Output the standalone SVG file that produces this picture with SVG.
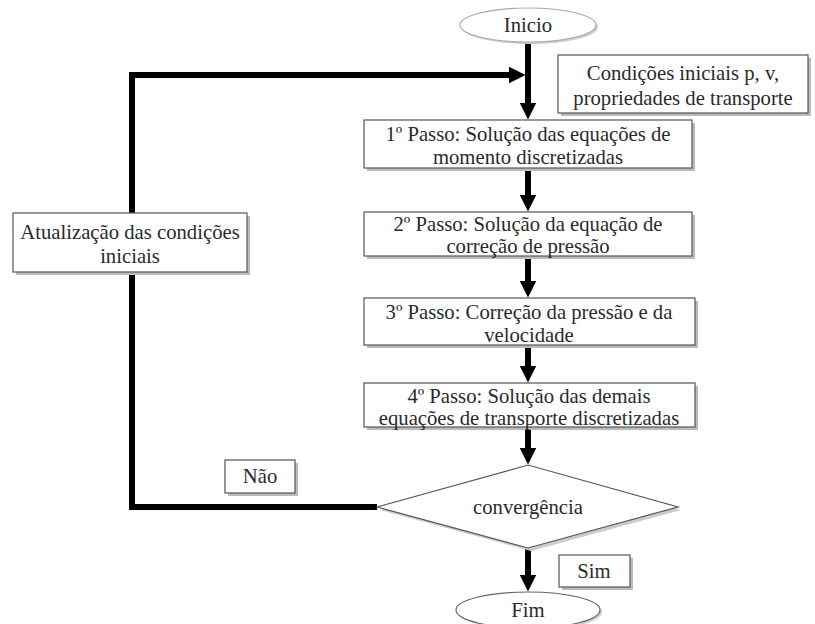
<svg xmlns="http://www.w3.org/2000/svg" width="815" height="624" viewBox="0 0 815 624">
<style>
.box{fill:#fff;stroke:#555;stroke-width:1.2}
.sh{fill:#bbb}
.t{font-family:'Liberation Serif','Times New Roman','DejaVu Serif',serif;font-size:20.7px;fill:#2a2a2a;text-anchor:middle}
.c{stroke:#000;stroke-width:6;fill:none}
</style>
<defs>
<marker id="ah" markerWidth="2.8" markerHeight="2.8" refX="2.2" refY="2" orient="auto" markerUnits="strokeWidth" viewBox="0 0 4 4">
<path d="M0,0 L4,2 L0,4 z" fill="#000"/>
</marker>
</defs>
<rect width="815" height="624" fill="#fff"/>
<g id="connectors">
<path class="c" d="M528,42 V112" marker-end="url(#ah)"/>
<path class="c" d="M132,213 V75 H518" marker-end="url(#ah)"/>
<path class="c" d="M528,168 V204" marker-end="url(#ah)"/>
<path class="c" d="M528,256 V290" marker-end="url(#ah)"/>
<path class="c" d="M528,345 V375" marker-end="url(#ah)"/>
<path class="c" d="M528,427 V457" marker-end="url(#ah)"/>
<path class="c" d="M528,548 V584" marker-end="url(#ah)"/>
<path class="c" d="M377,507 H132 V272"/>
</g>
<g id="inicio">
<ellipse cx="530" cy="27" rx="68" ry="17" fill="#ccc"/>
<ellipse cx="528" cy="25" rx="68" ry="17" fill="#fff" stroke="#aaa" stroke-width="1.2"/>
<text class="t" x="528" y="32">Inicio</text>
</g>
<g id="condicoes">
<rect class="sh" x="561" y="58" width="250" height="58"/>
<rect class="box" x="558" y="55" width="250" height="58"/>
<text class="t" x="683" y="80">Condições iniciais p, v,</text>
<text class="t" x="683" y="105">propriedades de transporte</text>
</g>
<g id="passo1">
<rect class="sh" x="367" y="123" width="328" height="48"/>
<rect class="box" x="364" y="120" width="328" height="48"/>
<text class="t" x="528" y="141">1º Passo: Solução das equações de</text>
<text class="t" x="528" y="164">momento discretizadas</text>
</g>
<g id="passo2">
<rect class="sh" x="367" y="215" width="328" height="44"/>
<rect class="box" x="364" y="212" width="328" height="44"/>
<text class="t" x="528" y="231">2º Passo: Solução da equação de</text>
<text class="t" x="528" y="253">correção de pressão</text>
</g>
<g id="passo3">
<rect class="sh" x="367" y="301" width="331" height="47"/>
<rect class="box" x="364" y="298" width="331" height="47"/>
<text class="t" x="529" y="319">3º Passo: Correção da pressão e da</text>
<text class="t" x="529" y="342">velocidade</text>
</g>
<g id="passo4">
<rect class="sh" x="367" y="386" width="331" height="44"/>
<rect class="box" x="364" y="383" width="331" height="44"/>
<text class="t" x="529" y="403">4º Passo: Solução das demais</text>
<text class="t" x="529" y="425">equações de transporte discretizadas</text>
</g>
<g id="atualizacao">
<rect class="sh" x="16" y="216" width="234" height="59"/>
<rect class="box" x="13" y="213" width="234" height="59"/>
<text class="t" x="130" y="239">Atualização das condições</text>
<text class="t" x="130" y="263">iniciais</text>
</g>
<g id="convergencia">
<polygon points="380,510 531,468 681,510 531,551" fill="#ccc"/>
<polygon class="box" points="377,507 528,465 678,507 528,548"/>
<text class="t" x="528" y="514">convergência</text>
</g>
<g id="nao">
<rect class="sh" x="228" y="463" width="70" height="33"/>
<rect class="box" x="225" y="460" width="70" height="33"/>
<text class="t" x="260" y="483">Não</text>
</g>
<g id="sim">
<rect class="sh" x="562" y="558" width="71" height="32"/>
<rect class="box" x="559" y="555" width="71" height="32"/>
<text class="t" x="594" y="578">Sim</text>
</g>
<g id="fim">
<ellipse cx="530" cy="612" rx="72" ry="18" fill="#ccc"/>
<ellipse cx="528" cy="610" rx="72" ry="18" fill="#fff" stroke="#666" stroke-width="1.2"/>
<text class="t" x="528" y="617">Fim</text>
</g>
</svg>
